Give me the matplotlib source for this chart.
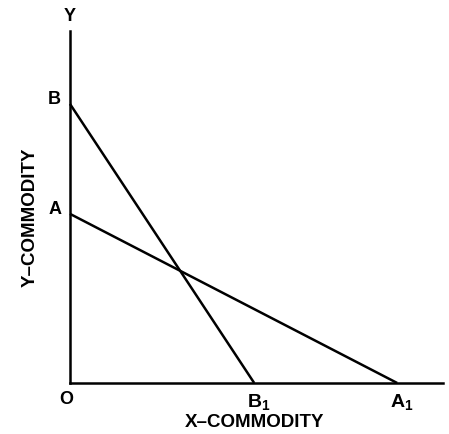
import matplotlib
matplotlib.use("Agg")
import matplotlib.pyplot as plt

plt.rcParams['font.family'] = 'Liberation Sans'
plt.rcParams['mathtext.fontset'] = 'custom'
plt.rcParams['mathtext.rm'] = 'Liberation Sans:bold'
plt.rcParams['mathtext.it'] = 'Liberation Sans:bold'
plt.rcParams['mathtext.bf'] = 'Liberation Sans:bold'

# budget lines: intercepts on Y and X axes
linhas = ['A', 'B']
y_intercepto = [5.17, 8.53]
x_intercepto = [10.0, 5.63]
x_rotulos = ['$\\mathrm{A_1}$', '$\\mathrm{B_1}$']

fig = plt.figure(figsize=(4.49, 4.35), dpi=100)
ax = fig.add_axes([70 / 449, 51 / 435, 373 / 449, 352 / 435])
ax.set_xlim(0, 11.4)
ax.set_ylim(0, 10.76)

for nome, yi, xi, xr in zip(linhas, y_intercepto, x_intercepto, x_rotulos):
    ax.plot([0, xi], [yi, 0], color='black', lw=1.8, solid_capstyle='butt', clip_on=False)
    ax.annotate(nome, (0, yi), xytext=(-11, 4), textcoords='offset points',
                ha='center', va='center', fontsize=13, fontweight='bold')
    ax.annotate(xr, (xi, 0), xytext=(3, -13), textcoords='offset points',
                ha='center', va='center', fontsize=14)

ax.annotate('O', (0, 0), xytext=(-3, -11), textcoords='offset points',
            ha='center', va='center', fontsize=13, fontweight='bold')
ax.annotate('Y', (0, 10.76), xytext=(0, 11), textcoords='offset points',
            ha='center', va='center', fontsize=13, fontweight='bold')

for s in ['top', 'right']:
    ax.spines[s].set_visible(False)
for s in ['left', 'bottom']:
    ax.spines[s].set_linewidth(1.8)
ax.set_xticks([])
ax.set_yticks([])

fig.text(255 / 449, 1 - 423 / 435, 'X\u2013COMMODITY', ha='center', va='center',
         fontsize=13.5, fontweight='bold')
fig.text(30 / 449, 1 - 217 / 435, 'Y\u2013COMMODITY', ha='center', va='center',
         fontsize=13.5, fontweight='bold', rotation=90)

fig.savefig('out.png', dpi=100)
